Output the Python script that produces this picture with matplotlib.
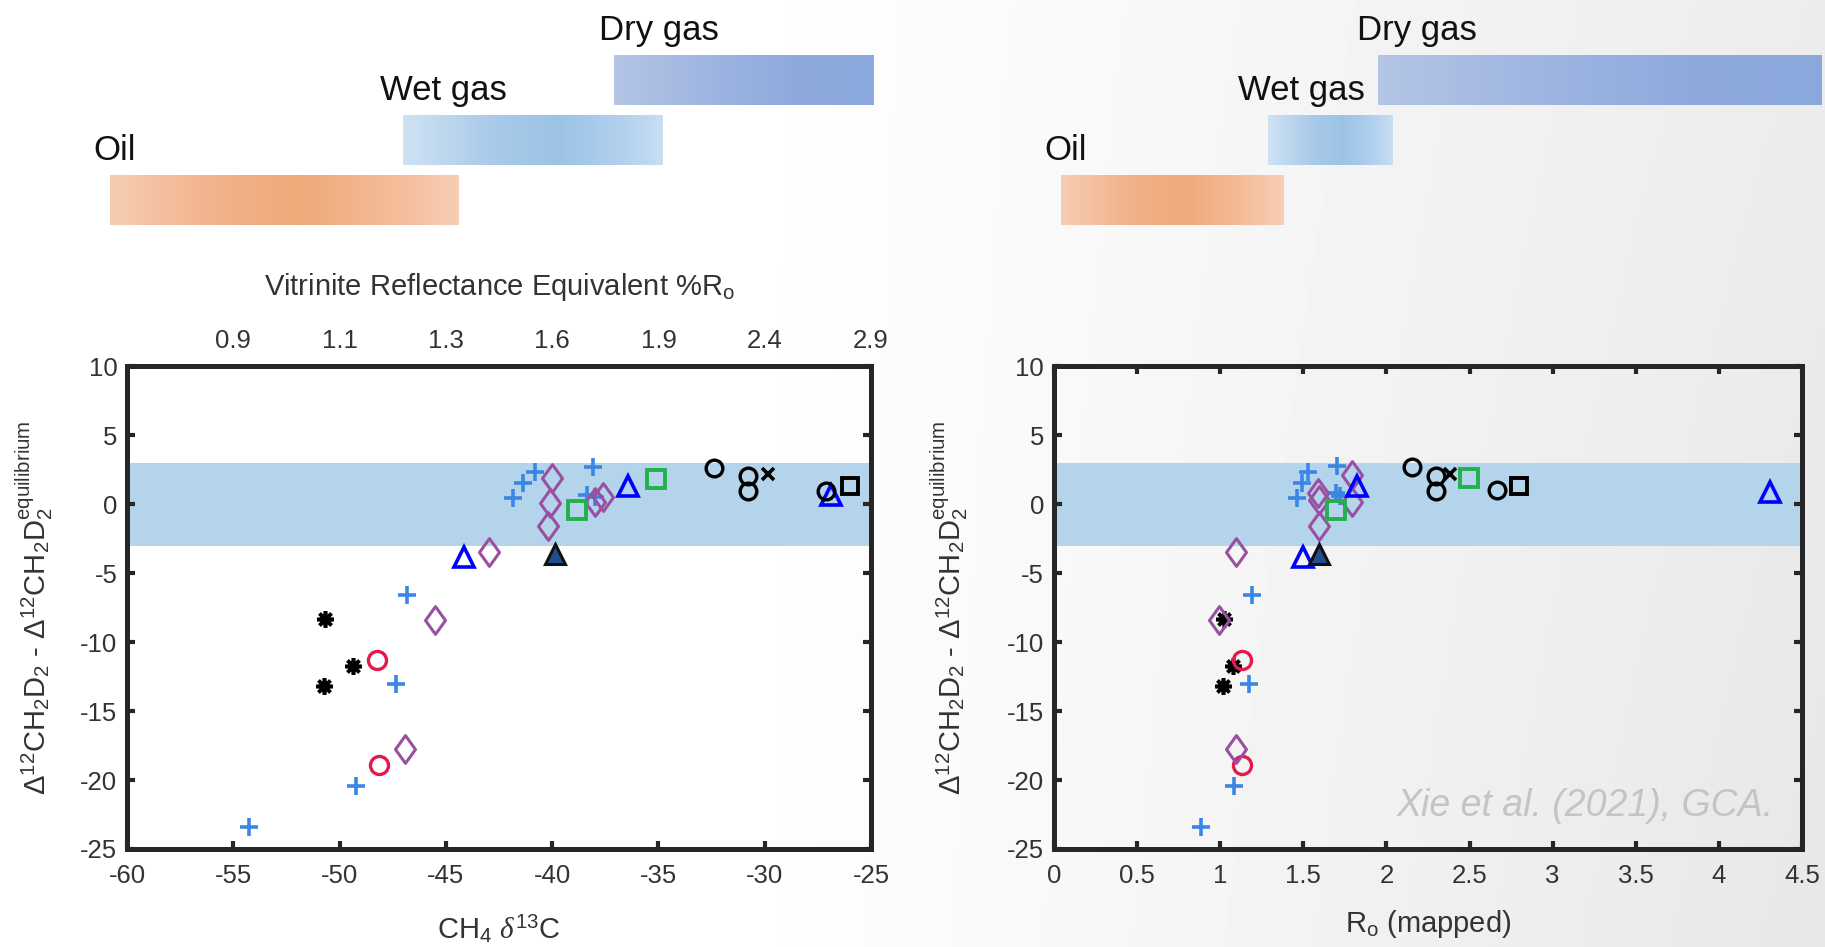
import numpy as np
import matplotlib
matplotlib.use('Agg')
import matplotlib.pyplot as plt
from matplotlib.colors import LinearSegmentedColormap
from matplotlib.path import Path

# ---------------- data ----------------
yticks_dev = [-25, -20, -15, -10, -5, 0, 5, 10]
left_xticks = [-60, -55, -50, -45, -40, -35, -30, -25]
right_xticks = [0, 0.5, 1, 1.5, 2, 2.5, 3, 3.5, 4, 4.5]
right_xticklabels = ['0', '0.5', '1', '1.5', '2', '2.5', '3', '3.5', '4', '4.5']
vr_positions = [-55, -50, -45, -40, -35, -30, -25]
vr_labels = ['0.9', '1.1', '1.3', '1.6', '1.9', '2.4', '2.9']
equilibrium_band = [-3, 3]

stage_names = ['Oil', 'Wet gas', 'Dry gas']
left_stage_start = [-60.8, -47.0, -37.1]
left_stage_end = [-44.4, -34.8, -24.9]
right_stage_start = [0.04, 1.29, 1.95]
right_stage_end = [1.38, 2.04, 4.62]

# series: blue crosses
cross_d13c = [-54.25, -49.24, -47.35, -46.85, -41.86, -41.38, -40.79, -38.09, -38.38, -38.0]
cross_ro = [0.883, 1.083, 1.175, 1.194, 1.462, 1.492, 1.529, 1.705, 1.698, 1.72]
cross_dev_l = [-23.37, -20.4, -13.0, -6.59, 0.48, 1.53, 2.37, 2.74, 0.68, 0.5]
cross_dev_r = [-23.37, -20.4, -13.0, -6.59, 0.48, 1.57, 2.37, 2.78, 0.8, 0.6]
# black asterisks
ast_d13c = [-50.67, -50.74, -49.36]
ast_ro = [1.022, 1.015, 1.077]
ast_dev = [-8.35, -13.2, -11.74]
# red circles
red_d13c = [-48.23, -48.16]
red_ro = [1.129, 1.129]
red_dev = [-11.26, -18.93]
# purple diamonds
dia_d13c = [-45.49, -46.92, -42.98, -40.0, -40.12, -40.19, -37.97, -37.6]
dia_dev_l = [-8.4, -17.72, -3.49, 1.89, 0.07, -1.55, 0.19, 0.56]
dia_ro = [0.991, 1.095, 1.095, 1.79, 1.59, 1.597, 1.597, 1.79]
dia_dev_r = [-8.4, -17.72, -3.49, 2.13, 0.8, 0.3, -1.55, 0.19]
# blue open triangles
tri_d13c = [-44.15, -36.42, -26.87]
tri_dev_l = [-3.85, 1.36, 0.68]
tri_ro = [1.498, 1.822, 4.308]
tri_dev_r = [-3.85, 1.36, 0.92]
# dark filled triangle
ftri_d13c = [-39.88]
ftri_ro = [1.597]
ftri_dev = [-3.6]
# green squares
grn_d13c = [-38.81, -35.11]
grn_ro = [1.698, 2.498]
grn_dev_l = [-0.41, 1.84]
grn_dev_r = [-0.41, 1.89]
# black circles
bci_d13c = [-32.41, -30.81, -30.81, -27.11]
bci_dev_l = [2.61, 2.08, 0.99, 0.99]
bci_ro = [2.154, 2.298, 2.298, 2.668]
bci_dev_r = [2.69, 2.08, 0.99, 1.04]
# black x
bx_d13c = [-29.86]
bx_ro = [2.385]
bx_dev = [2.2]
# black square
bsq_d13c = [-25.97]
bsq_ro = [2.797]
bsq_dev = [1.36]

# ---------------- style ----------------
plt.rcParams['font.family'] = ['Liberation Sans', 'DejaVu Sans']
plt.rcParams['mathtext.fontset'] = 'custom'
plt.rcParams['mathtext.rm'] = 'Liberation Sans'
plt.rcParams['mathtext.it'] = 'Liberation Serif:italic'
plt.rcParams['mathtext.bf'] = 'Liberation Sans:bold'
plt.rcParams['axes.unicode_minus'] = False

SPINE = '#262626'
TXT = '#333333'
C_CROSS = '#3b86e3'
C_RED = '#e31a4b'
C_PURPLE = '#9a50a0'
C_BLUE = '#0000ff'
C_GREEN = '#22b14c'
C_BAND = '#b3d4ea'
TICK_FS = 18.5
LABEL_FS = 21

fig = plt.figure(figsize=(18.25, 9.47), dpi=100)

# background gradient
bg = fig.add_axes([0, 0, 1, 1], zorder=-10)
W, H = 600, 300
xx, yy = np.meshgrid(np.linspace(0, 1, W), np.linspace(0, 1, H))
g = np.clip((xx - 0.40) / 0.60, 0, 1)
val = 1 - 0.075 * g - 0.02 * g * yy
bg.imshow(val, cmap='gray', vmin=0, vmax=1, extent=[0, 1, 0, 1], aspect='auto', origin='upper')
bg.set_xlim(0, 1)
bg.set_ylim(0, 1)
bg.axis('off')

diamond = Path([(0, 1), (0.72, 0), (0, -1), (-0.72, 0), (0, 1)],
               [Path.MOVETO, Path.LINETO, Path.LINETO, Path.LINETO, Path.CLOSEPOLY])


def style_axes(ax):
    ax.set_facecolor('none')
    for s in ax.spines.values():
        s.set_linewidth(3.6)
        s.set_color(SPINE)
    ax.tick_params(direction='in', top=True, right=True, length=6, width=3,
                   color=SPINE, labelsize=TICK_FS, labelcolor=TXT)
    ax.tick_params(axis='x', pad=11)
    ax.tick_params(axis='y', pad=7)
    ax.set_ylim(-25, 10)
    ax.set_yticks(yticks_dev)
    ax.axhspan(equilibrium_band[0], equilibrium_band[1], color=C_BAND, lw=0, zorder=0)


def plot_series(ax, cx, cy, ax_x, ar_x, dx, dy, tx, ty, fx, gx, gy, bcx, bcy, bxx, bsx):
    ax.plot(cx, cy, ls='none', marker='+', ms=13, mew=2.6, color=C_CROSS, zorder=3)
    ax.plot(ax_x, ast_dev, ls='none', marker=(8, 2, 0), ms=12, mew=2.6, color='black', zorder=3)
    ax.plot(ar_x, red_dev, ls='none', marker='o', ms=13, mew=2.4, mfc='none', mec=C_RED, zorder=3)
    ax.plot(dx, dy, ls='none', marker=diamond, ms=20, mew=2.2, mfc='none', mec=C_PURPLE, zorder=3)
    ax.plot(tx, ty, ls='none', marker='^', ms=15, mew=2.6, mfc='none', mec=C_BLUE, zorder=4)
    ax.plot(fx, ftri_dev, ls='none', marker='^', ms=15, mew=2.2, mfc='#1f4f8f', mec='#111111', zorder=4)
    ax.plot(gx, gy, ls='none', marker='s', ms=13, mew=2.8, mfc='none', mec=C_GREEN, zorder=4)
    ax.plot(bcx, bcy, ls='none', marker='o', ms=12, mew=2.4, mfc='none', mec='black', zorder=4)
    ax.plot(bxx, bx_dev, ls='none', marker='x', ms=8, mew=2.6, color='black', zorder=4)
    ax.plot(bsx, bsq_dev, ls='none', marker='s', ms=11, mew=2.8, mfc='none', mec='black', zorder=4)


ylab = (r'$\Delta^{12}$CH$_2$D$_2$ - $\Delta^{12}$CH$_2$D$_2^{\mathrm{equilibrium}}$')

# ---------------- left ----------------
ax1 = fig.add_axes([0.0696, 0.1035, 0.4077, 0.5095])
style_axes(ax1)
ax1.set_xlim(-60, -25)
ax1.set_xticks(left_xticks)
plot_series(ax1, cross_d13c, cross_dev_l, ast_d13c, red_d13c, dia_d13c, dia_dev_l,
            tri_d13c, tri_dev_l, ftri_d13c, grn_d13c, grn_dev_l,
            bci_d13c, bci_dev_l, bx_d13c, bsq_d13c)
ax1.set_xlabel(r'CH$_4$ $\delta^{13}$C', fontsize=LABEL_FS, color=TXT, labelpad=18)
ax1.set_ylabel(ylab, fontsize=LABEL_FS, color=TXT)
ax1.yaxis.set_label_coords(-0.097, 0.5)

top = ax1.twiny()
top.set_xlim(ax1.get_xlim())
top.set_xticks(vr_positions)
top.set_xticklabels(vr_labels)
top.tick_params(length=0, pad=10, labelsize=TICK_FS, labelcolor=TXT)
for s in top.spines.values():
    s.set_visible(False)
top.set_xlabel(r'Vitrinite Reflectance Equivalent %R$_\mathrm{o}$', fontsize=LABEL_FS,
               color=TXT, labelpad=24)

# ---------------- right ----------------
ax2 = fig.add_axes([0.5775, 0.1035, 0.4099, 0.5095])
style_axes(ax2)
ax2.set_xlim(0, 4.5)
ax2.set_xticks(right_xticks)
ax2.set_xticklabels(right_xticklabels)
plot_series(ax2, cross_ro, cross_dev_r, ast_ro, red_ro, dia_ro, dia_dev_r,
            tri_ro, tri_dev_r, ftri_ro, grn_ro, grn_dev_r,
            bci_ro, bci_dev_r, bx_ro, bsq_ro)
ax2.set_xlabel(r'R$_\mathrm{o}$ (mapped)', fontsize=LABEL_FS, color=TXT, labelpad=14)
ax2.set_ylabel(ylab, fontsize=LABEL_FS, color=TXT)
ax2.yaxis.set_label_coords(-0.112, 0.5)
ax2.text(0.962, 0.09, 'Xie et al. (2021), GCA.', transform=ax2.transAxes, ha='right',
         va='center', fontsize=27, style='italic', color='#c4c4c4')

# ---------------- maturity bars ----------------
cmaps = [
    LinearSegmentedColormap.from_list('oil', [(0, '#f7cdb2'), (0.3, '#f2b28c'), (0.55, '#f0a979'),
                                              (0.8, '#f4bb98'), (1, '#f7cdb3')]),
    LinearSegmentedColormap.from_list('wet', [(0, '#cfe2f3'), (0.35, '#a9cae9'), (0.6, '#9cc3e6'),
                                              (0.85, '#b3d1ee'), (1, '#c8def2')]),
    LinearSegmentedColormap.from_list('dry', [(0, '#b4c5e5'), (0.4, '#9db4e1'), (0.7, '#8eaadd'),
                                              (1, '#8ba8dc')]),
]
grad = np.linspace(0, 1, 256)[None, :]


def draw_stages(tax, starts, ends, label_dx):
    tax.set_facecolor('none')
    tax.set_ylim(-0.5, 2.5)
    tax.axis('off')
    for i, (s, e) in enumerate(zip(starts, ends)):
        im = tax.imshow(grad, cmap=cmaps[i], extent=[s, e, i - 0.41, i + 0.41],
                        aspect='auto', interpolation='bilinear')
        im.set_clip_on(False)
        tax.annotate(stage_names[i], xy=(s, i + 0.41), xytext=(label_dx[i], 18),
                     textcoords='offset points', ha='left', va='center',
                     fontsize=25, color='#111111', annotation_clip=False)


tax1 = fig.add_axes([0.0696, 0.7572, 0.4077, 0.1894])
tax1.set_xlim(-60, -25)
draw_stages(tax1, left_stage_start, left_stage_end, [-12, -17, -11])
tax1.set_xlim(-60, -25)

tax2 = fig.add_axes([0.5775, 0.7572, 0.4099, 0.1894])
tax2.set_xlim(0, 4.5)
draw_stages(tax2, right_stage_start, right_stage_end, [-12, -22, -15])
tax2.set_xlim(0, 4.5)

fig.savefig('out.png', dpi=100)
